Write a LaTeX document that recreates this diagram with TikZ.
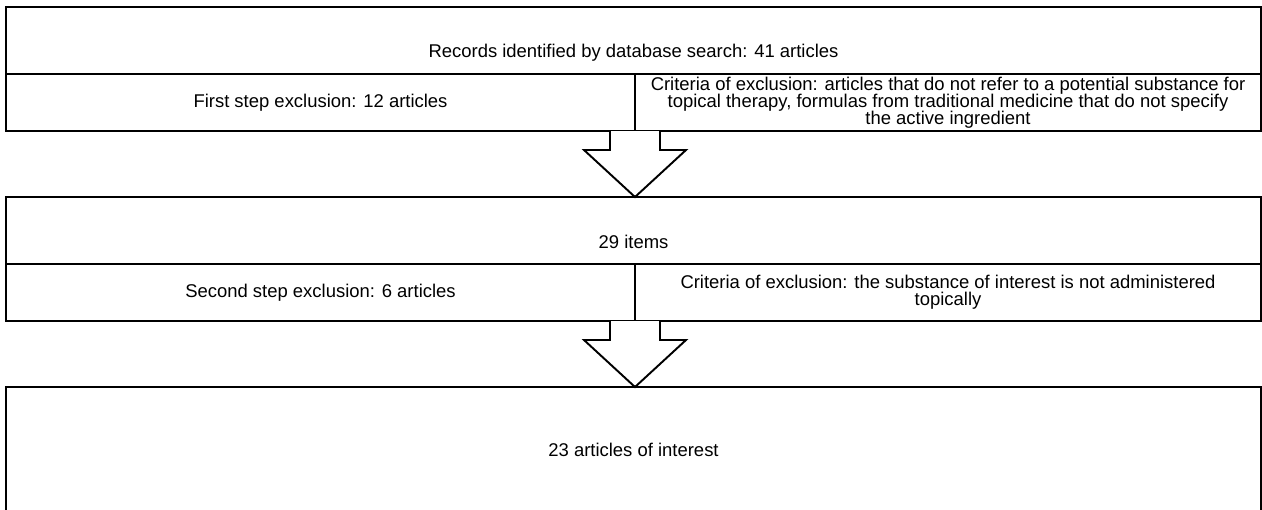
\documentclass[tikz,border=0pt]{standalone}
\usepackage{fontspec}
\setmainfont{Liberation Sans}
\usetikzlibrary{positioning}

% hollow block arrow from the bottom of one box to the top of the next
\newcommand{\blockarrow}[2]{%
  \draw[fill=white, line join=miter]
    ([xshift=-5mm]#1) -- ++(0,-3.8mm) -- ++(-5.2mm,0) -- (#1 |- #2)
    -- ++(10.2mm,9.4mm) -- ++(-5.2mm,0) -- ([xshift=5mm]#1);
}

\begin{document}
\begin{tikzpicture}[line width=1.1pt, node distance=0pt,
  cell/.style={draw, rectangle, outer sep=0pt, inner sep=1pt, align=center,
    font=\fontsize{10.5}{9.8}\selectfont},
  txt/.style={align=center, inner sep=0pt, font=\fontsize{10.5}{9.8}\selectfont}]
  \useasboundingbox (0,0) rectangle (25.24,-10.18);
  % First box: records found
  \node[cell, minimum width=25.1cm, minimum height=1.34cm] (records) at (12.67,-0.81) {};
  \node[txt] (recordstext) at ([yshift=-2.5mm]records.center)
    {Records identified by database search: 41 articles};
  \node[cell, minimum width=12.58cm, minimum height=1.14cm, below right=of records.south west] (exclA)
    {First step exclusion: 12 articles};
  \node[cell, minimum width=12.52cm, minimum height=1.14cm, right=of exclA] (critA)
    {Criteria of exclusion: articles that do not refer to a potential substance for\\
     topical therapy, formulas from traditional medicine that do not specify\\
     the active ingredient};
  % Second box: remaining items
  \node[cell, minimum width=25.1cm, minimum height=1.34cm, below right=1.32cm and 0pt of exclA.south west] (items) {};
  \node[txt] (itemstext) at ([yshift=-2.3mm]items.center) {29 items};
  \node[cell, minimum width=12.58cm, minimum height=1.14cm, below right=of items.south west] (exclB)
    {Second step exclusion: 6 articles};
  \node[cell, minimum width=12.52cm, minimum height=1.14cm, right=of exclB] (critB)
    {Criteria of exclusion: the substance of interest is not administered\\
     topically};
  % Last box: result
  \node[cell, minimum width=25.1cm, minimum height=2.52cm, below right=1.32cm and 0pt of exclB.south west] (result)
    {23 articles of interest};
  % Arrows between the boxes
  \blockarrow{exclA.south east}{items.north}
  \blockarrow{exclB.south east}{result.north}
\end{tikzpicture}
\end{document}
